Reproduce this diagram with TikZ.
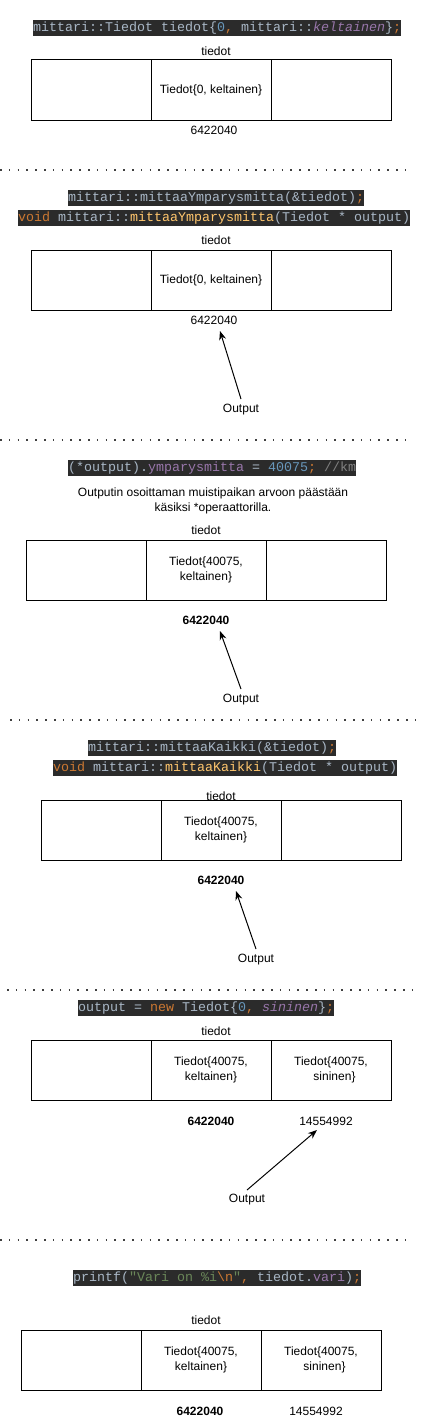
\documentclass[tikz,border=0pt]{standalone}
\usepackage{fontspec}
\setmainfont{Liberation Sans}
\newfontfamily\codefont{Liberation Mono}
\usetikzlibrary{arrows.meta}
\definecolor{codebg}{HTML}{2B2B2B}
\definecolor{codefg}{HTML}{A9B7C6}
\definecolor{cnum}{HTML}{6897BB}
\definecolor{ckw}{HTML}{CC7832}
\definecolor{cfield}{HTML}{9876AA}
\definecolor{cfun}{HTML}{FFC66D}
\definecolor{cstr}{HTML}{6A8759}
\definecolor{ccom}{HTML}{808080}
\newcommand{\kw}[1]{\textcolor{ckw}{#1}}
\newcommand{\nm}[1]{\textcolor{cnum}{#1}}
\newcommand{\fld}[1]{\textcolor{cfield}{#1}}
\newcommand{\fldi}[1]{\textcolor{cfield}{\itshape #1}}
\newcommand{\fun}[1]{\textcolor{cfun}{#1}}
\newcommand{\str}[1]{\textcolor{cstr}{#1}}
\newcommand{\com}[1]{\textcolor{ccom}{#1}}
\tikzset{
  codebox/.style={fill=codebg, text=codefg, inner xsep=0pt, inner ysep=0pt,
    minimum height=16pt, anchor=west, font=\codefont\fontsize{13.33}{16}\selectfont},
  lbl/.style={inner sep=1pt, font=\fontsize{12}{15}\selectfont, align=center},
  addr/.style={lbl},
  baddr/.style={lbl, font=\fontsize{12}{15}\selectfont\bfseries},
  cell/.style={draw, line width=1pt, minimum width=120pt, minimum height=60pt,
    inner sep=0pt, font=\fontsize{12}{15}\selectfont, align=center},
  sep/.style={line width=1.6pt, dash pattern=on 1.6pt off 7.2pt, black!75},
  arr/.style={line width=1pt, -{Stealth[length=9pt,width=7pt]}}
}
\begin{document}
\begin{tikzpicture}[x=1pt,y=-1pt]
\useasboundingbox (0,0) rectangle (437,1421);

% ---------- Section 1
\node[codebox] (c1) at (33,28) {mittari::Tiedot tiedot\{\nm{0}\kw{,} mittari::\fldi{keltainen}\}\kw{;}};
\node[lbl] (t1) at (216,51) {tiedot};
\node[cell] (a1) at (91,90) {};
\node[cell] (b1) at (211,90) {Tiedot\{0, keltainen\}};
\node[cell] (d1) at (331,90) {};
\node[addr] (m1) at (214,130) {6422040};
\coordinate (l1a) at (0,170); \coordinate (l1b) at (413,170);
\draw[sep] (l1a) -- (l1b);

% ---------- Section 2
\node[codebox] (c2) at (68,198) {mittari::mittaaYmparysmitta(\&tiedot)\kw{;}};
\node[codebox] (c3) at (18,218) {\kw{void} mittari::\fun{mittaaYmparysmitta}(Tiedot * output)};
\node[lbl] (t2) at (216,240) {tiedot};
\node[cell] (a2) at (91,280) {};
\node[cell] (b2) at (211,280) {Tiedot\{0, keltainen\}};
\node[cell] (d2) at (331,280) {};
\node[addr] (m2) at (214,320) {6422040};
\node[lbl] (o2) at (241,410) {Output};
\coordinate (s2) at (241,399); \coordinate (e2) at (220,331);
\draw[arr] (s2) -- (e2);
\coordinate (l2a) at (0,440); \coordinate (l2b) at (413,440);
\draw[sep] (l2a) -- (l2b);

% ---------- Section 3
\node[codebox] (c4) at (68,468) {(*output).\fld{ymparysmitta} = \nm{40075}\kw{;} \com{//km}};
\node[lbl] (n3) at (213,500.5) {Outputin osoittaman muistipaikan arvoon päästään\\käsiksi *operaattorilla.};
\node[lbl] (t3) at (206,530) {tiedot};
\node[cell] (a3) at (86,570) {};
\node[cell] (b3) at (206,570) {Tiedot\{40075,\\keltainen\}};
\node[cell] (d3) at (326,570) {};
\node[baddr] (m3) at (206,620) {6422040};
\node[lbl] (o3) at (241,700) {Output};
\coordinate (s3) at (241,689); \coordinate (e3) at (220,631);
\draw[arr] (s3) -- (e3);
\coordinate (l3a) at (10,720); \coordinate (l3b) at (423,720);
\draw[sep] (l3a) -- (l3b);

% ---------- Section 4
\node[codebox] (c5) at (88,748) {mittari::mittaaKaikki(\&tiedot)\kw{;}};
\node[codebox] (c6) at (53,768) {\kw{void} mittari::\fun{mittaaKaikki}(Tiedot * output)};
\node[lbl] (t4) at (221,796) {tiedot};
\node[cell] (a4) at (101,830) {};
\node[cell] (b4) at (221,830) {Tiedot\{40075,\\keltainen\}};
\node[cell] (d4) at (341,830) {};
\node[baddr] (m4) at (221,880) {6422040};
\node[lbl] (o4) at (256,960) {Output};
\coordinate (s4) at (256,949); \coordinate (e4) at (236,891);
\draw[arr] (s4) -- (e4);
\coordinate (l4a) at (7,990); \coordinate (l4b) at (417,990);
\draw[sep] (l4a) -- (l4b);

% ---------- Section 5
\node[codebox] (c7) at (78,1008) {output = \kw{new} Tiedot\{\nm{0}\kw{,} \fldi{sininen}\}\kw{;}};
\node[lbl] (t5) at (216,1031) {tiedot};
\node[cell] (a5) at (91,1070) {};
\node[cell] (b5) at (211,1070) {Tiedot\{40075,\\keltainen\}};
\node[cell] (d5) at (331,1070) {Tiedot\{40075,\\\hspace*{7pt}sininen\}};
\node[baddr] (m5) at (211,1121) {6422040};
\node[addr] (h5) at (326,1121) {14554992};
\node[lbl] (o5) at (247,1200) {Output};
\coordinate (s5) at (247,1190); \coordinate (e5) at (317,1130);
\draw[arr] (s5) -- (e5);
\coordinate (l5a) at (0,1240); \coordinate (l5b) at (412,1240);
\draw[sep] (l5a) -- (l5b);

% ---------- Section 6
\node[codebox] (c8) at (73,1278) {printf(\str{"Vari on \%i}\kw{\textbackslash n}\str{"}\kw{,} tiedot.\fld{vari})\kw{;}};
\node[lbl] (t6) at (206,1320) {tiedot};
\node[cell] (a6) at (81,1360) {};
\node[cell] (b6) at (201,1360) {Tiedot\{40075,\\keltainen\}};
\node[cell] (d6) at (321,1360) {Tiedot\{40075,\\\hspace*{7pt}sininen\}};
\node[baddr] (m6) at (200,1411) {6422040};
\node[addr] (h6) at (316,1411) {14554992};
\end{tikzpicture}
\end{document}
